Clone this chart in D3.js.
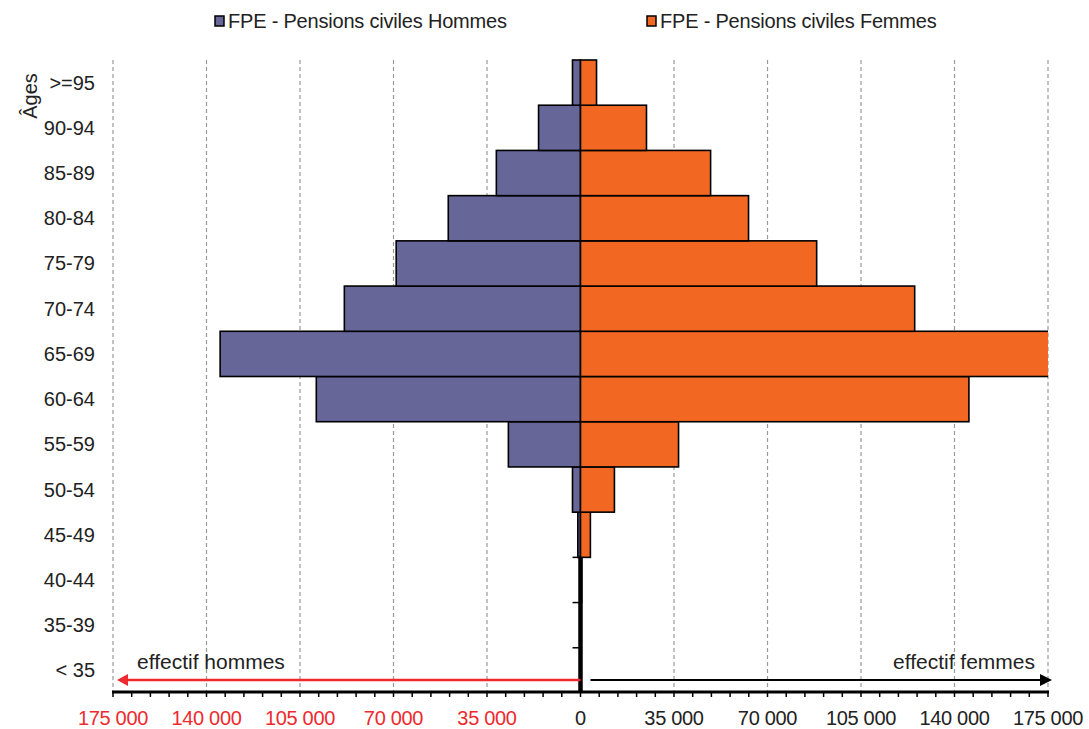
<!DOCTYPE html>
<html><head><meta charset="utf-8">
<script src="https://cdn.jsdelivr.net/npm/d3@7"></script>
<style>
body{margin:0;background:#fff;}
text{font-family:"Liberation Sans",Arial,sans-serif;}
</style></head>
<body><svg id="c" width="1089" height="729"></svg>
<script>
const ages = ["< 35","35-39","40-44","45-49","50-54","55-59","60-64","65-69","70-74","75-79","80-84","85-89","90-94",">=95"];
const hommes = [0,0,0,1000,3000,27000,98900,134900,88400,69000,49500,31500,15700,3000];
const femmes = [0,0,400,3700,12700,36700,145400,180000,125100,88400,62900,48700,24700,6000];
const xTicks = [-175000,-140000,-105000,-70000,-35000,0,35000,70000,105000,140000,175000];
const seriesNames = ["FPE - Pensions civiles Hommes","FPE - Pensions civiles Femmes"];
const colors = ["#666699","#f26822"];

const svg = d3.select("#c");
const x = d3.scaleLinear().domain([-175000,175000]).range([113,1048]);
const y = d3.scaleBand().domain(ages.slice().reverse()).range([60,693]).padding(0);
const x0 = x(0);

svg.append("defs").append("clipPath").attr("id","clip")
  .append("rect").attr("x",x(-175000)).attr("y",55).attr("width",x(175000)-x(-175000)).attr("height",645);

// gridlines
svg.append("g").selectAll("line").data(xTicks.filter(d=>d!==0)).join("line")
  .attr("x1",d=>x(d)).attr("x2",d=>x(d)).attr("y1",60).attr("y2",692)
  .attr("stroke","#9a9a9a").attr("stroke-width",1.2).attr("stroke-dasharray","4,3");

// y axis (center)
svg.append("line").attr("x1",x0).attr("x2",x0).attr("y1",60).attr("y2",693)
  .attr("stroke","#000").attr("stroke-width",4.5);
svg.append("g").selectAll("line").data(ages.slice(0,-1)).join("line")
  .attr("x1",x0-8).attr("x2",x0).attr("y1",d=>y(d)).attr("y2",d=>y(d))
  .attr("stroke","#000").attr("stroke-width",1.5);

// bars
const bars = svg.append("g").attr("clip-path","url(#clip)");
bars.selectAll("rect.h").data(ages.map((a,i)=>({a,v:hommes[i]})).filter(d=>d.v>0)).join("rect")
  .attr("x",d=>x(-d.v)).attr("width",d=>x0-x(-d.v)).attr("y",d=>y(d.a)).attr("height",y.bandwidth())
  .attr("fill",colors[0]).attr("stroke","#000").attr("stroke-width",1.6);
bars.selectAll("rect.f").data(ages.map((a,i)=>({a,v:femmes[i]})).filter(d=>d.v>0)).join("rect")
  .attr("x",x0).attr("width",d=>x(d.v)-x0).attr("y",d=>y(d.a)).attr("height",y.bandwidth())
  .attr("fill",colors[1]).attr("stroke","#000").attr("stroke-width",1.6);

// y labels
svg.append("g").selectAll("text").data(ages).join("text")
  .attr("x",95).attr("y",d=>y(d)+y.bandwidth()/2).attr("dy","0.35em")
  .attr("text-anchor","end").attr("font-size",20).attr("fill","#222").text(d=>d);
svg.append("text").attr("transform","translate(37,96) rotate(-90)").attr("text-anchor","middle")
  .attr("font-size",20).attr("fill","#222").text("Âges");

// x axis
const yAx = 692;
svg.append("line").attr("x1",x(-175000)-1).attr("x2",x(175000)+1).attr("y1",yAx).attr("y2",yAx)
  .attr("stroke","#000").attr("stroke-width",3);
const minor = d3.range(-175000,175001,7000);
svg.append("g").selectAll("line").data(minor).join("line")
  .attr("x1",d=>x(d)).attr("x2",d=>x(d)).attr("y1",yAx).attr("y2",yAx+5)
  .attr("stroke","#000").attr("stroke-width",1.5);
const fmt = d=>d3.format(",")(Math.abs(d)).replace(/,/g," ");
svg.append("g").selectAll("text").data(xTicks).join("text")
  .attr("x",d=>x(d)).attr("y",718).attr("dy","0.35em").attr("text-anchor","middle")
  .attr("font-size",20).attr("letter-spacing","-0.3")
  .attr("fill",d=>d<0?"#ee2a2e":"#222").text(fmt);

// arrows
const ay = 680;
svg.append("line").attr("x1",x0).attr("x2",x(-175000)+12).attr("y1",ay).attr("y2",ay)
  .attr("stroke","#ee2a2e").attr("stroke-width",2.5);
svg.append("path").attr("d",`M${x(-175000)+4},${ay} L${x(-175000)+15},${ay-6} L${x(-175000)+15},${ay+6} Z`).attr("fill","#ee2a2e");
svg.append("line").attr("x1",x0+10).attr("x2",x(175000)-6).attr("y1",ay).attr("y2",ay)
  .attr("stroke","#000").attr("stroke-width",2);
svg.append("path").attr("d",`M${x(175000)+4},${ay} L${x(175000)-8},${ay-6} L${x(175000)-8},${ay+6} Z`).attr("fill","#000");
svg.append("text").attr("x",137).attr("y",662).attr("dy","0.35em").attr("font-size",21).attr("fill","#222").text("effectif hommes");
svg.append("text").attr("x",1035).attr("y",662).attr("dy","0.35em").attr("text-anchor","end").attr("font-size",21).attr("fill","#222").text("effectif femmes");

// legend
const legX = [215,647];
const lg = svg.append("g").selectAll("g").data(seriesNames).join("g")
  .attr("transform",(d,i)=>`translate(${legX[i]},21)`);
lg.append("rect").attr("x",0).attr("y",-5).attr("width",9).attr("height",10)
  .attr("fill",(d,i)=>colors[i]).attr("stroke","#000").attr("stroke-width",1.5);
lg.append("text").attr("x",13).attr("y",0).attr("dy","0.35em").attr("font-size",20).attr("letter-spacing","-0.2")
  .attr("fill","#222").text(d=>d);
</script></body></html>
